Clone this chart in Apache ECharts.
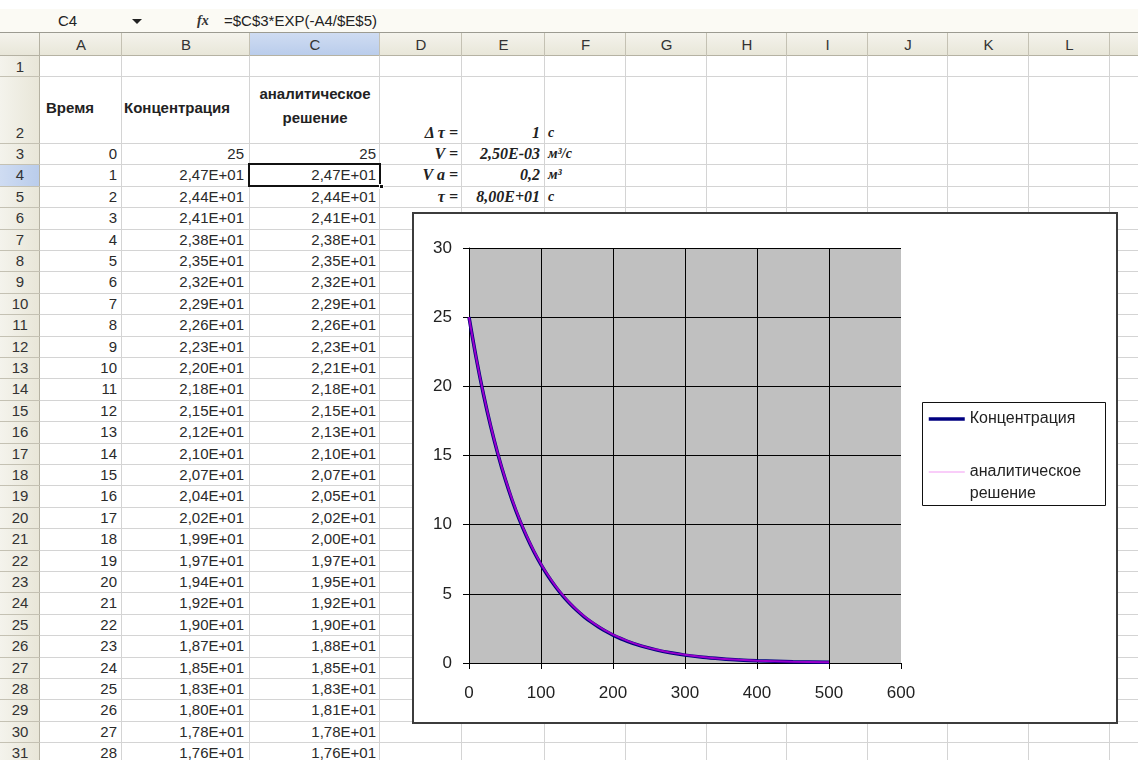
<!DOCTYPE html>
<html><head><meta charset="utf-8">
<script src="https://cdn.jsdelivr.net/npm/echarts@6/dist/echarts.min.js"></script>
<style>
body{margin:0;width:1138px;height:760px;overflow:hidden;background:#fff;font-family:"Liberation Sans",Arial,sans-serif;position:relative}
.a{position:absolute;white-space:nowrap;box-sizing:border-box}
#chart{position:absolute;left:413px;top:213px;width:704px;height:510px}
</style></head><body>
<div id="sheet"></div>
<div id="chart"></div>
<script>
// ---- spreadsheet data ----
const colLetters = ['A','B','C','D','E','F','G','H','I','J','K','L'];
const headerTime = 'Время';
const headerConc = 'Концентрация';
const headerAnalytic = ['аналитическое','решение'];
const timeValues = [0,1,2,3,4,5,6,7,8,9,10,11,12,13,14,15,16,17,18,19,20,21,22,23,24,25,26,27,28];
const concText = ['25','2,47E+01','2,44E+01','2,41E+01','2,38E+01','2,35E+01','2,32E+01','2,29E+01','2,26E+01','2,23E+01','2,20E+01','2,18E+01','2,15E+01','2,12E+01','2,10E+01','2,07E+01','2,04E+01','2,02E+01','1,99E+01','1,97E+01','1,94E+01','1,92E+01','1,90E+01','1,87E+01','1,85E+01','1,83E+01','1,80E+01','1,78E+01','1,76E+01'];
const analyticText = ['25','2,47E+01','2,44E+01','2,41E+01','2,38E+01','2,35E+01','2,32E+01','2,29E+01','2,26E+01','2,23E+01','2,21E+01','2,18E+01','2,15E+01','2,13E+01','2,10E+01','2,07E+01','2,05E+01','2,02E+01','2,00E+01','1,97E+01','1,95E+01','1,92E+01','1,90E+01','1,88E+01','1,85E+01','1,83E+01','1,81E+01','1,78E+01','1,76E+01'];
const paramLabels = ['Δ τ =','V =','V a =','τ ='];
const paramValues = ['1','2,50E-03','0,2','8,00E+01'];
const paramUnits = ['с','м³/с','м³','с'];
const nameBox = 'C4';
const formulaText = '=$C$3*EXP(-A4/$E$5)';

// ---- chart data ----
const chartTime     = [0,10,20,30,40,50,60,70,80,90,100,110,120,130,140,150,160,170,180,190,200,220,240,260,280,300,325,350,375,400,450,500];
const chartConc     = [25,22.05,19.44,17.14,15.12,13.33,11.75,10.36,9.14,8.06,7.11,6.27,5.53,4.87,4.30,3.79,3.34,2.95,2.60,2.29,2.02,1.57,1.22,0.95,0.74,0.57,0.42,0.31,0.22,0.16,0.09,0.05];
const chartAnalytic = [25,22.06,19.47,17.18,15.16,13.38,11.81,10.42,9.20,8.12,7.16,6.32,5.58,4.92,4.34,3.83,3.38,2.99,2.64,2.33,2.05,1.60,1.24,0.97,0.75,0.59,0.43,0.31,0.23,0.17,0.09,0.05];
const seriesNames = ['Концентрация','аналитическое\nрешение'];

// ---- draw spreadsheet ----
const sheet = document.getElementById('sheet');
function el(x,y,w,h,css,text){
  const d=document.createElement('div');d.className='a';
  d.style.cssText=`left:${x}px;top:${y}px;width:${w}px;height:${h}px;`+(css||'');
  if(text!==undefined)d.textContent=text;sheet.appendChild(d);return d;
}
const colX=[0,40,122,250,380,462,545,626,707,787,868,948,1029,1110,1160];
function rowTop(r){return r===1?56:r===2?76:143+(r-3)*21.4;}
function rowBot(r){return r===1?76:r===2?143:143+(r-2)*21.4;}
const lastRow=32;
// formula bar
el(0,0,1138,9,'background:#fff');
el(0,9,1138,24,'background:#FBFAF4');
el(0,32,1138,1,'background:#9C9B91');
el(0,9,160,23,'font-size:15px;line-height:23px;text-align:center;color:#222;padding-right:25px',nameBox);
el(132,19,0,0,'border-left:5px solid transparent;border-right:5px solid transparent;border-top:5px solid #222;width:0;height:0');
el(197,9,24,23,'font-size:14px;line-height:23px;font-style:italic;font-weight:bold;font-family:"Liberation Serif",serif;color:#333','fx');
el(224,9,300,23,'font-size:15px;line-height:23px;color:#222',formulaText);
// header row
el(0,33,1138,23,'background:linear-gradient(#F4F3EC,#E8E6D8)');
el(colX[3],33,colX[4]-colX[3],23,'background:linear-gradient(#CFDCF2,#B9CCEB)');
el(0,55,1138,1,'background:#B5B2A3');
for(let i=0;i<colLetters.length;i++){
  el(colX[i+1],33,colX[i+2]-colX[i+1],23,'font-size:15px;line-height:23px;text-align:center;color:#333',colLetters[i]);
}
// row header column
el(0,56,40,760,'background:linear-gradient(90deg,#F4F3EC,#E8E6D8)');
el(0,rowTop(4),40,21.4,'background:linear-gradient(90deg,#CFDCF2,#B9CCEB)');
el(39,33,1,760,'background:#B5B2A3');
// grid lines
for(let r=1;r<=lastRow;r++){
  const y=Math.round(rowBot(r));
  el(40,y,1100,1,'background:#D4D4D4');
  el(0,y,40,1,'background:#C4C1B3');
}
for(let c=2;c<colX.length-1;c++){
  el(colX[c]-1,56,1,720,'background:#D4D4D4');
  el(colX[c]-1,33,1,23,'background:#C4C1B3');
}
// row numbers
for(let r=1;r<=lastRow;r++){
  const t=rowTop(r),b=rowBot(r);
  const top = r===2 ? b-21 : t;
  el(0,top,40,21,'font-size:15px;line-height:21px;text-align:center;color:#333',String(r));
}
// headers row 2
const hcss='font-size:15px;font-weight:bold;color:#222;';
el(colX[1]+6,97,80,22,hcss+'line-height:22px',headerTime);
el(colX[2]+2,97,126,22,hcss+'line-height:22px',headerConc);
el(colX[3],82,colX[4]-colX[3],48,hcss+'line-height:24px;text-align:center;white-space:pre',headerAnalytic.join('\n'));
// data rows
for(let i=0;i<timeValues.length;i++){
  const r=3+i, y=rowTop(r);
  const css='font-size:15px;line-height:21px;text-align:right;color:#2a2a2a;';
  el(colX[1],y,colX[2]-colX[1]-5,21,css,String(timeValues[i]));
  el(colX[2],y,colX[3]-colX[2]-6,21,css,concText[i]);
  el(colX[3],y,colX[4]-colX[3]-4,21,css,analyticText[i]);
}
// parameters
for(let i=0;i<paramLabels.length;i++){
  const r=2+i, y=(r===2?rowBot(2)-21:rowTop(r));
  const pc='font-family:"Liberation Serif",serif;font-style:italic;font-weight:bold;line-height:21px;color:#222;';
  el(colX[4],y,colX[5]-colX[4]-4,21,pc+'font-size:16px;text-align:right',paramLabels[i]);
  el(colX[5],y,colX[6]-colX[5]-5,21,pc+'font-size:16px;text-align:right',paramValues[i]);
  el(colX[6]+3,y,70,21,pc+'font-size:14px;text-align:left',paramUnits[i]);
}
// selected cell
el(colX[3]-2,rowTop(4)-1.5,colX[4]-colX[3]+3,24,'border:2.5px solid #111');
el(colX[4]-1,rowTop(4)+19.5,5,5,'background:#111;border:1px solid #fff');
// chart frame
el(412,212,706,512,'border:2px solid #3c3c3c;background:#fff');

// ---- chart ----
const chart = echarts.init(document.getElementById('chart'), null, {renderer:'canvas'});
const axisLabelStyle = {fontSize:17,color:'#222',fontFamily:'"Liberation Sans", Arial, sans-serif'};
chart.setOption({
  animation:false,
  backgroundColor:'transparent',
  grid:{left:56,top:35,width:432,height:415,show:true,backgroundColor:'#C0C0C0',borderWidth:0},
  xAxis:{type:'value',min:0,max:600,interval:100,
    axisLine:{onZero:false,lineStyle:{color:'#000',width:1}},
    axisTick:{show:true,length:6,lineStyle:{color:'#000'}},
    axisLabel:Object.assign({margin:22},axisLabelStyle),
    splitLine:{show:true,showMinLine:false,showMaxLine:false,lineStyle:{color:'#000',width:1}}},
  yAxis:{type:'value',min:0,max:30,interval:5,
    axisLine:{show:true,onZero:false,lineStyle:{color:'#000',width:1}},
    axisTick:{show:true,length:6,lineStyle:{color:'#000'}},
    axisLabel:Object.assign({margin:17},axisLabelStyle),
    splitLine:{show:true,showMinLine:false,lineStyle:{color:'#000',width:1}}},
  graphic:[{type:'rect',left:509,top:189,z:-1,shape:{width:183,height:103},style:{fill:'#fff',stroke:'#111',lineWidth:1}}],
  legend:{orient:'vertical',left:514,top:195,padding:0,itemGap:9,itemWidth:36,itemHeight:10,
    itemStyle:{opacity:0},
    textStyle:{fontSize:16,lineHeight:22,color:'#222',fontFamily:'"Liberation Sans", Arial, sans-serif'},
    formatter:function(n){return n===seriesNames[1]?'\u00a0\n'+n:n;},
    data:[{name:seriesNames[0],lineStyle:{width:3.5,color:'#000080'}},
          {name:seriesNames[1],lineStyle:{width:1.5,color:'#F090F0'}}]},
  series:[
    {name:seriesNames[0],type:'line',symbol:'none',smooth:0.3,
     data:chartTime.map((t,i)=>[t,chartConc[i]]),
     lineStyle:{color:'#000080',width:3.5},itemStyle:{color:'#000080'}},
    {name:seriesNames[1],type:'line',symbol:'none',smooth:0.3,
     data:chartTime.map((t,i)=>[t,chartAnalytic[i]]),
     lineStyle:{color:'#FF00FF',width:2,opacity:0.6},itemStyle:{color:'#FF00FF'}}
  ]
});
</script>
</body></html>
